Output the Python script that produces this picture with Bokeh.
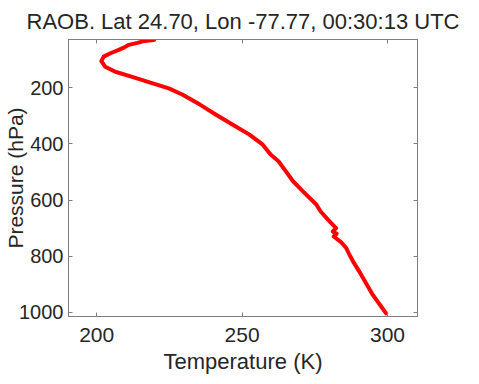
import math
from bokeh.plotting import figure
from bokeh.models import Range1d, LinearAxis, FixedTicker
from bokeh.embed import file_html
from bokeh.resources import INLINE

# Sounding data
pressure_hpa = [30, 33, 40, 47, 56, 65, 77, 89, 105, 125, 143, 161, 180, 202, 224, 260,
                295, 330, 366, 402, 438, 462, 497, 533, 570, 616, 641, 670, 700, 712,
                720, 730, 750, 771, 795, 825, 855, 900, 939, 975, 1004]
temperature_k = [219.7, 216.5, 214.0, 211.0, 209.5, 207.6, 204.7, 202.4, 201.6, 202.9,
                 206.4, 212.2, 217.9, 224.8, 229.4, 235.5, 240.9, 246.5, 252.4, 257.0,
                 259.8, 262.5, 265.0, 267.5, 271.0, 275.5, 277.0, 279.5, 282.3, 281.2,
                 282.5, 281.5, 284.0, 285.8, 286.9, 288.5, 290.3, 292.8, 295.0, 297.5,
                 299.5]
x_ticks = [200, 250, 300]
y_ticks = [200, 400, 600, 800, 1000]
title_text = "RAOB. Lat 24.70, Lon -77.77, 00:30:13 UTC"
x_label = "Temperature (K)"
y_label = "Pressure (hPa)"

FONT = "Liberation Sans"
TXT = "#262626"
AX = "#7f7f7f"

p = figure(width=479, height=384, output_backend="svg", toolbar_location=None,
           x_range=Range1d(190.3, 310.3), y_range=Range1d(1015, 28),
           min_border_left=68, min_border_right=62, min_border_top=39,
           min_border_bottom=68, x_axis_location=None, y_axis_location=None)
p.title.text = title_text
p.title.align = "center"
p.title.text_font = FONT
p.title.text_font_style = "normal"
p.title.text_font_size = "22px"
p.title.text_color = TXT
p.title.offset = 0
p.title.standoff = 12

p.grid.visible = False
p.outline_line_color = AX
p.outline_line_width = 1

def mk_axis(ticks, labels=True):
    a = LinearAxis(ticker=FixedTicker(ticks=ticks))
    a.axis_line_color = AX
    a.major_tick_line_color = AX
    a.major_tick_in = 4
    a.major_tick_out = 0
    a.minor_tick_line_color = None
    a.major_label_text_font = FONT
    a.major_label_text_font_size = "21px"
    a.major_label_text_color = TXT
    a.axis_label_text_font = FONT
    a.axis_label_text_font_size = "22px"
    a.axis_label_text_font_style = "normal"
    a.axis_label_text_color = TXT
    if not labels:
        a.major_label_overrides = {t: "" for t in ticks}
        a.major_label_standoff = 0
    return a

xb = mk_axis(x_ticks)
xb.axis_label = x_label
xb.major_label_standoff = 11
xb.axis_label_standoff = 4
p.add_layout(xb, "below")

yl = mk_axis(y_ticks)
yl.axis_label = y_label
yl.major_label_text_font_size = "20px"
yl.axis_label_text_font_size = "21px"
yl.major_label_standoff = 5
yl.axis_label_standoff = -11
p.add_layout(yl, "left")

p.add_layout(mk_axis(x_ticks, labels=False), "above")
p.add_layout(mk_axis(y_ticks, labels=False), "right")

p.line(temperature_k, pressure_hpa, line_color="#ff0000", line_width=4,
       line_join="round", line_cap="round")

open("out.html", "w").write(file_html(p, INLINE))
